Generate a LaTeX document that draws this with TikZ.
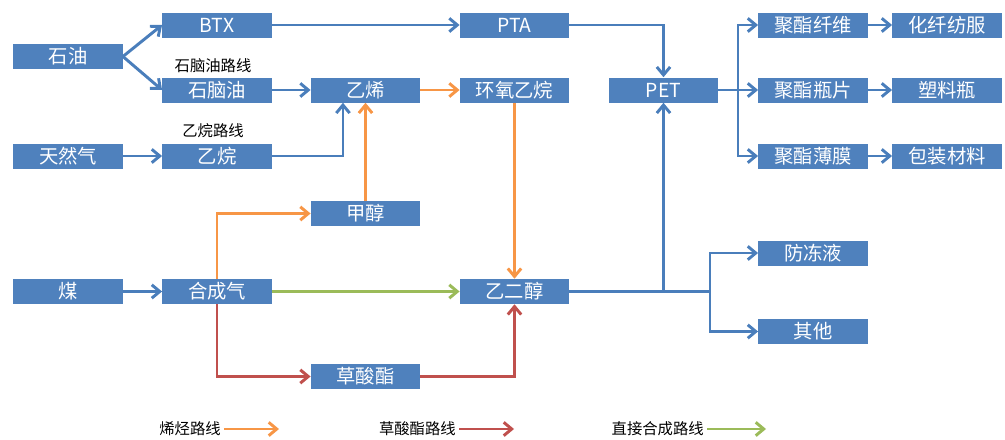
\documentclass[tikz,border=0pt]{standalone}
\usepackage{fontspec}
\setmainfont{Noto Sans CJK SC}
\usetikzlibrary{arrows.meta}
\definecolor{boxblue}{HTML}{4F81BD}
\definecolor{lnblue}{HTML}{4A7EBB}
\definecolor{lnorange}{HTML}{F79646}
\definecolor{lnred}{HTML}{C0504D}
\definecolor{lngreen}{HTML}{9BBB59}
\tikzset{
  box/.style={fill=boxblue, text=white, minimum width=82pt, minimum height=18.75pt, inner sep=0pt, font=\fontsize{14.5}{15}\selectfont},
  lbl/.style={text=black, inner sep=0pt, font=\fontsize{11.5}{12}\selectfont},
  conn/.style={line width=2.2pt, -{Straight Barb[length=6pt,width=10pt]}},
  plain/.style={line width=2.2pt},
  cb/.style={draw=lnblue},
  co/.style={draw=lnorange},
  cr/.style={draw=lnred},
  cg/.style={draw=lngreen}
}
\begin{document}
\begin{tikzpicture}[x=0.75pt,y=-0.75pt]
\useasboundingbox (0,0) rectangle (1005,439);
% boxes
\node[box] (sy) at (68,56.5) {石油};
\node[box] (btx) at (217,25) {BTX};
\node[box] (snyo) at (217,90) {石脑油};
\node[box] (trq) at (68,156) {天然气};
\node[box] (yw) at (217,156) {乙烷};
\node[box] (yx) at (365.5,90) {乙烯};
\node[box] (hyyw) at (514.5,90) {环氧乙烷};
\node[box] (pta) at (514.5,25) {PTA};
\node[box] (pet) at (663.5,90) {PET};
\node[box] (jzxw) at (813,25) {聚酯纤维};
\node[box] (hxff) at (947,25) {化纤纺服};
\node[box] (jzpp) at (813,90) {聚酯瓶片};
\node[box] (slp) at (947,90) {塑料瓶};
\node[box] (jzbm) at (813,156) {聚酯薄膜};
\node[box] (bzcl) at (947,156) {包装材料};
\node[box] (jc) at (365.5,213.5) {甲醇};
\node[box] (mei) at (68,291.5) {煤};
\node[box] (hcq) at (217,291.5) {合成气};
\node[box] (yec) at (514.5,291.5) {乙二醇};
\node[box] (fdy) at (813,253) {防冻液};
\node[box] (qt) at (813,331.5) {其他};
\node[box] (csz) at (365.5,376.5) {草酸酯};
% labels
\node[lbl] (l1) at (213,66) {石脑油路线};
\node[lbl] (l2) at (213,131) {乙烷路线};
% blue connectors
\draw[conn,cb] (sy.east) -- (btx.west);
\draw[conn,cb] (sy.east) -- (snyo.west);
\draw[conn,cb] (snyo) -- (yx);
\draw[conn,cb] (trq) -- (yw);
\draw[conn,cb] (yw.east) -| ([xshift=-16.9pt]yx.south);
\draw[conn,cb] (btx) -- (pta);
\draw[conn,cb] (pta.east) -| (pet.north);
\draw[conn,cb] (mei) -- (hcq);
\coordinate (j3) at (738,90);
\draw[plain,cb] (pet.east) -- (j3);
\draw[conn,cb] (j3) |- (jzxw.west);
\draw[conn,cb] (j3) -- (jzpp.west);
\draw[conn,cb] (j3) |- (jzbm.west);
\draw[conn,cb] (jzxw) -- (hxff);
\draw[conn,cb] (jzpp) -- (slp);
\draw[conn,cb] (jzbm) -- (bzcl);
\coordinate (j1) at (pet.south |- yec.east);
\coordinate (j2) at (710,291.5);
\draw[plain,cb] (yec.east) -- (j2);
\draw[conn,cb] (j1) -- (pet.south);
\draw[conn,cb] (j2) |- (fdy.west);
\draw[conn,cb] (j2) |- (qt.west);
% orange
\draw[conn,co] (jc.north) -- (yx.south);
\draw[conn,co] (yx) -- (hyyw);
\draw[conn,co] (hyyw) -- (yec);
\draw[conn,co] (hcq.north) |- (jc.west);
% green
\draw[conn,cg] (hcq) -- (yec);
% red
\draw[conn,cr] (hcq.south) |- (csz.west);
\draw[conn,cr] (csz.east) -| (yec.south);
% legend
\node[lbl,anchor=east] (lg1) at (221,429) {烯烃路线};
\coordinate (lg1e) at (279,429);
\draw[conn,co] (lg1.east) ++(3,0) coordinate (lg1s) -- (lg1e);
\node[lbl,anchor=east] (lg2) at (456,429) {草酸酯路线};
\coordinate (lg2e) at (514,429);
\draw[conn,cr] (lg2.east) ++(3,0) coordinate (lg2s) -- (lg2e);
\node[lbl,anchor=east] (lg3) at (704,429) {直接合成路线};
\coordinate (lg3e) at (766,429);
\draw[conn,cg] (lg3.east) ++(3,0) coordinate (lg3s) -- (lg3e);
\end{tikzpicture}
\end{document}
